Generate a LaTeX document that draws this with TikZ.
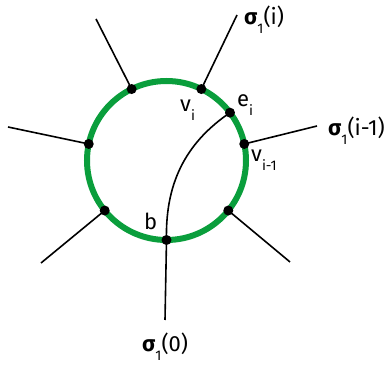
\documentclass[tikz,border=0pt]{standalone}
\usepackage{fontspec}
\setmainfont{Fira Sans}
\definecolor{ringgreen}{RGB}{10,158,60}
\newcommand{\lsub}[1]{\raisebox{-9pt}{\fontsize{14}{14}\selectfont #1}}
\begin{document}
\begin{tikzpicture}[x=1pt,y=-1pt,
  dotnode/.style={circle,fill=black,inner sep=0pt,minimum size=10pt},
  edge/.style={line width=1.6pt,black},
  lbl/.style={inner sep=0pt,anchor=base west,font=\fontsize{22}{22}\selectfont}]
\useasboundingbox (0,0) rectangle (389,366);
\coordinate (O) at (166.5,160.5);
% points on the ring
\path (O) ++(-116:79.5) coordinate (pA);
\path (O) ++(-64:79.5) coordinate (pB);
\path (O) ++(-168:79.5) coordinate (pC);
\path (O) ++(-12:79.5) coordinate (pD);
\path (O) ++(39:79.5) coordinate (pE);
\path (O) ++(141:79.5) coordinate (pF);
\path (O) ++(90:79.5) coordinate (pG);
\path (O) ++(-37:79.5) coordinate (pe);
% outer ends
\coordinate (qA) at (96,19);
\coordinate (qB) at (237,15);
\coordinate (qC) at (8,127);
\coordinate (qD) at (317,126);
\coordinate (qE) at (290,262);
\coordinate (qF) at (41,263);
\coordinate (qG) at (165,320);
% ring
\draw[ringgreen,line width=6pt] (O) circle[radius=79.5];
% spokes
\foreach \n in {A,B,C,D,E,F,G} \draw[edge] (p\n) -- (q\n);
% inner arc
\draw[edge] (pG) .. controls (165,178) and (190,140) .. (pe);
% dots
\foreach \n in {A,B,C,D,E,F,G,e} \node[dotnode] (d\n) at (p\n) {};
% labels
\node[lbl] (lsi) at (244,25) {\textbf{σ}\lsub{1}(i)};
\node[lbl] (lsim) at (328,136) {\textbf{σ}\lsub{1}(i-1)};
\node[lbl] (ls0) at (142,352) {\textbf{σ}\lsub{1}(0)};
\node[lbl] (lvi) at (180,112) {v\lsub{i}};
\node[lbl] (lei) at (237,107) {e\lsub{i}};
\node[lbl] (lvim) at (251,162) {v\lsub{i-1}};
\node[lbl] (lb) at (144,230) {b};
\end{tikzpicture}
\end{document}
